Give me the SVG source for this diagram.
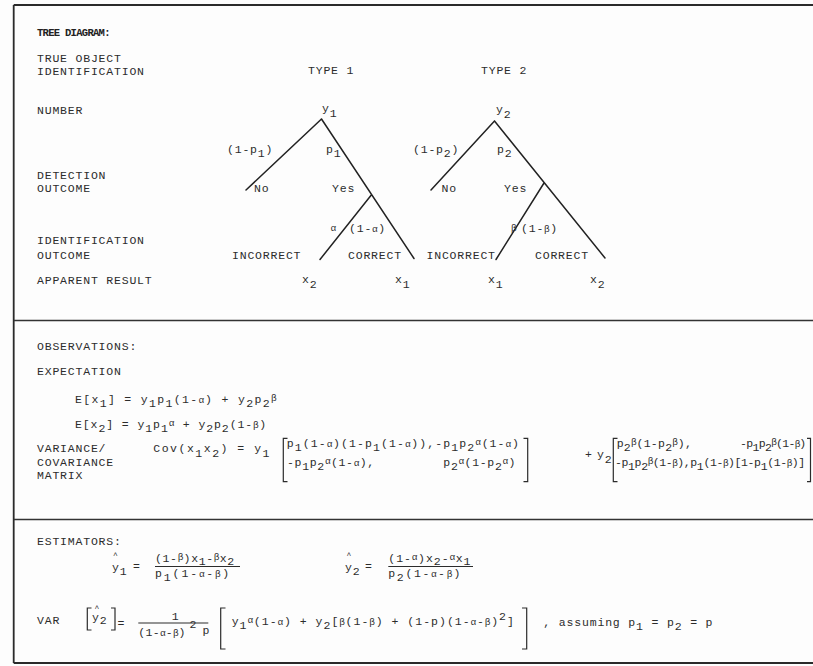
<svg xmlns="http://www.w3.org/2000/svg" width="813" height="666" viewBox="0 0 813 666">
<style>
.t{font-family:"Liberation Mono","DejaVu Sans Mono",monospace;font-size:11.5px;letter-spacing:0.8px;fill:#2c2c2c}
.h{font-family:"Liberation Mono","DejaVu Sans Mono",monospace;font-size:10.5px;letter-spacing:-0.7px;font-weight:bold;fill:#222}
.g{font-size:9.5px;letter-spacing:0.4px}
.ln{stroke:#222;stroke-width:1.5;fill:none;stroke-linecap:round}
.fr{stroke:#2a2a2a;stroke-width:1.8;fill:none}
.dv{stroke:#333;stroke-width:1.5;fill:none}
.br{stroke:#2c2c2c;stroke-width:1.2;fill:none}
.hat{font-size:8px;letter-spacing:0}
</style>
<rect width="813" height="666" fill="#fdfdfd"/>
<g id="frame">
<path class="fr" d="M13.7,5 H813 M13.7,5 V663 M13.7,663 H813"/>
<path class="dv" d="M13.7,320.5 H813 M13.7,519.5 H813"/>
</g>
<g id="row-labels">
<text class="h" x="37" y="35.5">TREE DIAGRAM:</text>
<text class="t" x="37" y="61.5">TRUE OBJECT</text>
<text class="t" x="37" y="74.5">IDENTIFICATION</text>
<text class="t" x="37" y="113.5">NUMBER</text>
<text class="t" x="37" y="178.5">DETECTION</text>
<text class="t" x="37" y="192">OUTCOME</text>
<text class="t" x="37" y="244">IDENTIFICATION</text>
<text class="t" x="37" y="258.5">OUTCOME</text>
<text class="t" x="37" y="284">APPARENT RESULT</text>
</g>
<g id="connectors">
<path class="ln" d="M321.5,119 L246,190 M321.5,119 L414,258.5 M371.7,194.5 L320,259.5"/>
<path class="ln" d="M494.5,121 L431,190 M494.5,121 L605,258 M544,183 L496,259.5"/>
<text class="t" x="227" y="153">(1-p<tspan dy="4">1</tspan><tspan dy="-4">)</tspan></text>
<text class="t" x="326" y="153">p<tspan dy="4">1</tspan></text>
<text class="t g" x="330.5" y="231">α</text>
<text class="t" x="349" y="232">(1-<tspan class="g">α</tspan>)</text>
<text class="t" x="413" y="153">(1-p<tspan dy="4">2</tspan><tspan dy="-4">)</tspan></text>
<text class="t" x="497" y="153">p<tspan dy="4">2</tspan></text>
<text class="t g" x="511" y="231">β</text>
<text class="t" x="521" y="232">(1-<tspan class="g">β</tspan>)</text>
</g>
<g id="type1">
<text class="t" x="308" y="74">TYPE 1</text>
</g>
<g id="type2">
<text class="t" x="481" y="74">TYPE 2</text>
</g>
<g id="n-y1"><text class="t" x="322" y="112">y<tspan dy="4.5">1</tspan></text></g>
<g id="n-no1"><text class="t" x="254" y="192">No</text></g>
<g id="n-yes1"><text class="t" x="332" y="192">Yes</text></g>
<g id="n-incorrect1"><text class="t" x="232" y="258.5">INCORRECT</text></g>
<g id="n-correct1"><text class="t" x="348" y="258.5">CORRECT</text></g>
<g id="n-res1a"><text class="t" x="302" y="283">x<tspan dy="5">2</tspan></text></g>
<g id="n-res1b"><text class="t" x="395" y="283">x<tspan dy="5">1</tspan></text></g>
<g id="n-y2"><text class="t" x="496" y="113">y<tspan dy="4.5">2</tspan></text></g>
<g id="n-no2"><text class="t" x="441.5" y="192">No</text></g>
<g id="n-yes2"><text class="t" x="504" y="192">Yes</text></g>
<g id="n-incorrect2"><text class="t" x="426.5" y="258.5">INCORRECT</text></g>
<g id="n-correct2"><text class="t" x="535" y="258.5">CORRECT</text></g>
<g id="n-res2a"><text class="t" x="488" y="283">x<tspan dy="5">1</tspan></text></g>
<g id="n-res2b"><text class="t" x="590" y="283">x<tspan dy="5">2</tspan></text></g>
<g id="observations">
<text class="t" x="37" y="349.5">OBSERVATIONS:</text>
<text class="t" x="37" y="375">EXPECTATION</text>
<text class="t" x="75" y="402.5" textLength="202">E[x<tspan dy="4.5">1</tspan><tspan dy="-4.5">] = y</tspan><tspan dy="4.5">1</tspan><tspan dy="-4.5">p</tspan><tspan dy="4.5">1</tspan><tspan dy="-4.5">(1-</tspan><tspan class="g">α</tspan>) + y<tspan dy="4.5">2</tspan><tspan dy="-4.5">p</tspan><tspan dy="4.5">2</tspan><tspan class="g" dy="-6.5">β</tspan></text>
<text class="t" x="75" y="427.5" textLength="192">E[x<tspan dy="4.5">2</tspan><tspan dy="-4.5">] = y</tspan><tspan dy="4.5">1</tspan><tspan dy="-4.5">p</tspan><tspan dy="4.5">1</tspan><tspan class="g" dy="-6.5">α</tspan><tspan dy="2"> + y</tspan><tspan dy="4.5">2</tspan><tspan dy="-4.5">p</tspan><tspan dy="4.5">2</tspan><tspan dy="-4.5">(1-</tspan><tspan class="g">β</tspan>)</text>
<text class="t" x="37" y="452">VARIANCE/</text>
<text class="t" x="37" y="466">COVARIANCE</text>
<text class="t" x="37" y="478.5">MATRIX</text>
<text class="t" x="153.3" y="452" textLength="117">Cov(x<tspan dy="4.5">1</tspan><tspan dy="-4.5">x</tspan><tspan dy="4.5">2</tspan><tspan dy="-4.5">) = y</tspan><tspan dy="4.5">1</tspan></text>
<path class="br" d="M287.5,438.3 H283.3 V481.7 H287.5"/>
<text class="t" x="286.7" y="447" textLength="233">p<tspan dy="4">1</tspan><tspan dy="-4">(1-</tspan><tspan class="g">α</tspan>)(1-p<tspan dy="4">1</tspan><tspan dy="-4">(1-</tspan><tspan class="g">α</tspan>)),-p<tspan dy="4">1</tspan><tspan dy="-4">p</tspan><tspan dy="4">2</tspan><tspan class="g" dy="-6">α</tspan><tspan dy="2">(1-</tspan><tspan class="g">α</tspan>)</text>
<text class="t" x="287" y="466" textLength="88">-p<tspan dy="4">1</tspan><tspan dy="-4">p</tspan><tspan dy="4">2</tspan><tspan class="g" dy="-6">α</tspan><tspan dy="2">(1-</tspan><tspan class="g">α</tspan>),</text>
<text class="t" x="443.3" y="466" textLength="73">p<tspan dy="4">2</tspan><tspan class="g" dy="-6">α</tspan><tspan dy="2">(1-p</tspan><tspan dy="4">2</tspan><tspan class="g" dy="-6">α</tspan><tspan dy="2">)</tspan></text>
<path class="br" d="M523.5,438.3 H527.7 V481.7 H523.5"/>
<text class="t" x="585" y="458">+</text>
<text class="t" x="597" y="458">y<tspan dy="4.5">2</tspan></text>
<path class="br" d="M617.5,438.3 H613.3 V481.7 H617.5"/>
<text class="t" x="616.7" y="447" textLength="76">p<tspan dy="4">2</tspan><tspan class="g" dy="-6">β</tspan><tspan dy="2">(1-p</tspan><tspan dy="4">2</tspan><tspan class="g" dy="-6">β</tspan><tspan dy="2">),</tspan></text>
<text class="t" x="740" y="447" textLength="67">-p<tspan dy="4">1</tspan><tspan dy="-4">p</tspan><tspan dy="4">2</tspan><tspan class="g" dy="-6">β</tspan><tspan dy="2">(1-</tspan><tspan class="g">β</tspan>)</text>
<text class="t" x="615" y="466" textLength="191">-p<tspan dy="4">1</tspan><tspan dy="-4">p</tspan><tspan dy="4">2</tspan><tspan class="g" dy="-6">β</tspan><tspan dy="2">(1-</tspan><tspan class="g">β</tspan>),p<tspan dy="4">1</tspan><tspan dy="-4">(1-</tspan><tspan class="g">β</tspan>)[1-p<tspan dy="4">1</tspan><tspan dy="-4">(1-</tspan><tspan class="g">β</tspan>)]</text>
<path class="br" d="M807,438.3 H810.5 V481.7 H807"/>
</g>
<g id="estimators">
<text class="t" x="37" y="545">ESTIMATORS:</text>
<text class="t hat" x="113" y="558">^</text>
<text class="t" x="112" y="571">y<tspan dy="4">1</tspan></text>
<text class="t" x="133" y="570">=</text>
<text class="t" x="155" y="562" textLength="80">(1-<tspan class="g" dy="-2">β</tspan><tspan dy="2">)x</tspan><tspan dy="3">1</tspan><tspan dy="-3">-</tspan><tspan class="g" dy="-2">β</tspan><tspan dy="2">x</tspan><tspan dy="3">2</tspan></text>
<path class="br" d="M155,566.5 H240"/>
<text class="t" x="155" y="577" textLength="75">p<tspan dy="3.5">1</tspan><tspan dy="-3.5">(1-</tspan><tspan class="g">α</tspan>-<tspan class="g">β</tspan>)</text>
<text class="t hat" x="346.5" y="558">^</text>
<text class="t" x="345" y="571">y<tspan dy="4">2</tspan></text>
<text class="t" x="365" y="570">=</text>
<text class="t" x="388.3" y="562" textLength="83">(1-<tspan class="g" dy="-2">α</tspan><tspan dy="2">)x</tspan><tspan dy="3">2</tspan><tspan dy="-3">-</tspan><tspan class="g" dy="-2">α</tspan><tspan dy="2">x</tspan><tspan dy="3">1</tspan></text>
<path class="br" d="M388.3,566.5 H473"/>
<text class="t" x="388.3" y="577" textLength="73">p<tspan dy="3.5">2</tspan><tspan dy="-3.5">(1-</tspan><tspan class="g">α</tspan>-<tspan class="g">β</tspan>)</text>
<text class="t" x="37" y="623.5">VAR</text>
<path class="br" d="M91.5,608 H87.3 V630 H91.5 M111,608 H115 V630 H111"/>
<text class="t hat" x="94.5" y="610.5">^</text>
<text class="t" x="92" y="621">y<tspan dy="3">2</tspan></text>
<text class="t" x="117.5" y="627">=</text>
<text class="t" x="171.7" y="619.5">1</text>
<path class="br" d="M138.3,623 H208.3"/>
<text class="t" x="138.3" y="635.5" textLength="48">(1-<tspan class="g">α</tspan>-<tspan class="g">β</tspan>)</text>
<text class="t" x="189.5" y="627.5">2</text>
<text class="t" x="202.5" y="633.5">p</text>
<path class="br" d="M225.5,608 H220.7 V649 H225.5"/>
<text class="t" x="231.7" y="624.5" textLength="283">y<tspan dy="4">1</tspan><tspan class="g" dy="-6">α</tspan><tspan dy="2">(1-</tspan><tspan class="g">α</tspan>) + y<tspan dy="4">2</tspan><tspan dy="-4">[</tspan><tspan class="g">β</tspan>(1-<tspan class="g">β</tspan>) + (1-p)(1-<tspan class="g">α</tspan>-<tspan class="g">β</tspan>)<tspan dy="-5">2</tspan><tspan dy="5">]</tspan></text>
<path class="br" d="M522,608 H526.7 V649 H522"/>
<text class="t" x="543.3" y="626" textLength="170">, assuming p<tspan dy="4">1</tspan><tspan dy="-4"> = p</tspan><tspan dy="4">2</tspan><tspan dy="-4"> = p</tspan></text>
</g>
</svg>
